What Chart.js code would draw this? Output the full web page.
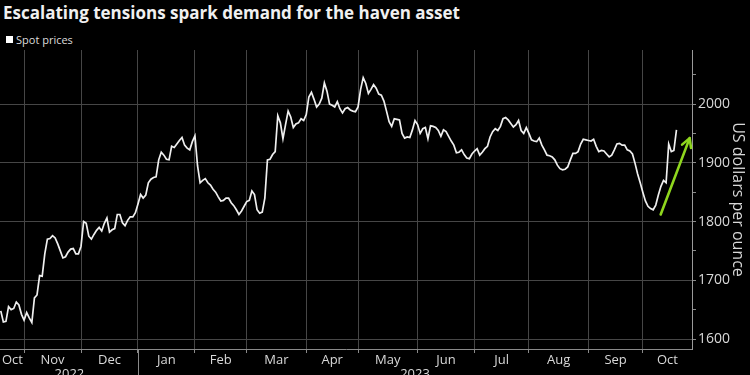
<!DOCTYPE html>
<html><head><meta charset="utf-8">
<script src="https://cdn.jsdelivr.net/npm/chart.js@4.4.0/dist/chart.umd.min.js"></script>
<style>
html,body{margin:0;padding:0;background:#000;}
#wrap{position:relative;width:750px;height:375px;background:#000;overflow:hidden;}
#title{position:absolute;left:3px;top:1px;font:700 17px "Open Sans";color:#f0f0f0;white-space:nowrap;}
#legend{position:absolute;left:6px;top:32px;font:400 11px "Open Sans";color:#dcdcdc;display:flex;align-items:center;white-space:nowrap;}
#legend .box{display:inline-block;width:7px;height:7px;background:#fff;margin-right:3px;}
canvas{position:absolute;left:0;top:0;}
</style></head>
<body><div id="wrap">
<div id="title">Escalating tensions spark demand for the haven asset</div>
<div id="legend"><span class="box"></span>Spot prices</div>
<canvas id="c" width="750" height="375"></canvas>
</div>
<script>
// Month categories (trading days visible in each month)
const monthNames = ['Oct','Nov','Dec','Jan','Feb','Mar','Apr','May','Jun','Jul','Aug','Sep','Oct'];
const monthDays  = [9,22,22,22,20,23,20,23,22,21,23,21,14];
const yearLabels = ['2022','2023'];
const yearMonthCounts = [3,10];
// Gold spot price, USD per ounce, daily
const spotPrices = [
1648,1629,1630,1655,1650,1652,1663,1658,1642,1632,
1645,1636,1628,1670,1675,1708,1707,1745,1770,1771,
1776,1772,1762,1750,1738,1740,1748,1753,1754,1745,
1745,1758,1800,1797,1775,1770,1778,1785,1790,1784,
1797,1806,1782,1786,1788,1812,1812,1798,1793,1802,
1808,1808,1815,1830,1846,1840,1845,1866,1872,1875,
1876,1905,1918,1913,1906,1905,1928,1926,1932,1938,
1943,1930,1925,1922,1936,1946,1895,1866,1870,1873,
1866,1862,1855,1850,1842,1835,1836,1840,1840,1832,
1827,1820,1812,1818,1826,1834,1836,1852,1846,1820,
1814,1816,1840,1905,1906,1914,1919,1980,1968,1941,
1965,1988,1978,1960,1966,1968,1975,1972,1982,2012,
2020,2008,1995,2000,2010,2036,2022,2000,1998,1995,
2004,1992,1985,1992,1994,1990,1988,1987,1995,2025,
2045,2035,2018,2025,2033,2027,2017,2015,2005,1988,
1970,1962,1975,1974,1973,1950,1942,1944,1943,1956,
1972,1965,1950,1958,1960,1941,1963,1962,1960,1955,
1945,1956,1953,1945,1937,1930,1917,1918,1922,1914,
1908,1907,1915,1920,1924,1913,1918,1924,1928,1944,
1953,1958,1955,1962,1975,1977,1973,1967,1961,1965,
1972,1955,1950,1960,1950,1939,1937,1936,1942,1930,
1922,1913,1912,1910,1905,1896,1890,1888,1889,1893,
1905,1916,1916,1919,1932,1940,1939,1938,1937,1940,
1928,1919,1921,1920,1915,1910,1913,1922,1932,1933,
1930,1930,1922,1920,1915,1899,1881,1866,1850,1835,
1826,1822,1820,1828,1845,1860,1870,1866,1932,1919,
1921,1956
];
const yTickValues = [1600,1650,1700,1750,1800,1850,1900,1950,2000,2050];
// Annotation arrow (data coordinates: trading-day index, price)
const arrowFrom = [254.9, 1812];
const arrowTo   = [266.1, 1942];

const X_MIN = -0.3, X_MAX = 267;
const Y_MIN = 1583, Y_MAX = 2092;
const GRID = '#464646';
const TEXT = '#d8d8d8';
const FONT = 'Open Sans';

const monthStarts = [];
let acc = 0;
monthDays.forEach(d => { monthStarts.push(acc); acc += d; });

const xTicks = [];
monthStarts.forEach((s, k) => {
  if (k > 0) xTicks.push({value: s, kind: 'grid', label: ''});
  const a = Math.max(s, X_MIN);
  const e = (k === monthDays.length - 1) ? X_MAX : s + monthDays[k];
  xTicks.push({value: (a + e) / 2, kind: 'label', label: monthNames[k]});
});
let mIdx = 0;
yearLabels.forEach((y, k) => {
  const a = Math.max(monthStarts[mIdx], X_MIN);
  const nextIdx = mIdx + yearMonthCounts[k];
  const e = nextIdx < monthStarts.length ? monthStarts[nextIdx] : X_MAX;
  xTicks.push({value: (a + e) / 2, kind: 'year', label: ['', y]});
  mIdx = nextIdx;
});
xTicks.sort((p, q) => p.value - q.value);
const yearSplit = monthStarts[yearMonthCounts[0]];

const points = spotPrices.map((v, i) => ({x: i, y: v}));

const extras = {
  id: 'extras',
  afterDatasetsDraw(chart) {
    const {ctx, scales: {x, y}} = chart;
    const x1 = x.getPixelForValue(arrowFrom[0]), y1 = y.getPixelForValue(arrowFrom[1]);
    const x2 = x.getPixelForValue(arrowTo[0]), y2 = y.getPixelForValue(arrowTo[1]);
    ctx.save();
    ctx.strokeStyle = '#8fd61e';
    ctx.lineWidth = 2.6;
    ctx.lineCap = 'round';
    ctx.lineJoin = 'round';
    ctx.beginPath(); ctx.moveTo(x1, y1); ctx.lineTo(x2, y2); ctx.stroke();
    const ang = Math.atan2(y2 - y1, x2 - x1), L = 10, spread = 0.5;
    ctx.beginPath();
    ctx.moveTo(x2 - L * Math.cos(ang - spread), y2 - L * Math.sin(ang - spread));
    ctx.lineTo(x2, y2);
    ctx.lineTo(x2 - L * Math.cos(ang + spread), y2 - L * Math.sin(ang + spread));
    ctx.stroke();
    ctx.restore();
  },
  afterDraw(chart) {
    const {ctx, scales: {x}, chartArea} = chart;
    const px = Math.round(x.getPixelForValue(yearSplit)) + 0.5;
    ctx.save();
    ctx.strokeStyle = '#8a8a8a';
    ctx.lineWidth = 1;
    ctx.beginPath(); ctx.moveTo(px, chartArea.bottom); ctx.lineTo(px, chart.height); ctx.stroke();
    ctx.restore();
  }
};

new Chart(document.getElementById('c'), {
  type: 'line',
  data: { datasets: [{
    label: 'Spot prices', data: points,
    borderColor: '#efefef', borderWidth: 1.7, pointRadius: 0, tension: 0, fill: false
  }]},
  options: {
    responsive: false, animation: false, devicePixelRatio: 1,
    layout: { padding: { top: 50, left: 0, right: 0, bottom: 0 } },
    plugins: { legend: { display: false }, title: { display: false }, tooltip: { enabled: false } },
    scales: {
      x: {
        type: 'linear', min: X_MIN, max: X_MAX,
        afterBuildTicks: s => { s.ticks = xTicks.map(t => ({value: t.value})); },
        afterFit: s => { s.height = 26; },
        ticks: {
          autoSkip: false, maxRotation: 0, minRotation: 0, padding: 0,
          color: TEXT, font: {family: FONT, size: 13, lineHeight: 1.1},
          callback: (v, i) => xTicks[i] ? xTicks[i].label : ''
        },
        grid: {
          color: c => (c.tick && xTicks[c.index] && xTicks[c.index].kind === 'grid') ? GRID : 'rgba(0,0,0,0)',
          tickColor: c => (c.tick && xTicks[c.index] && xTicks[c.index].kind === 'grid') ? '#8a8a8a' : 'rgba(0,0,0,0)',
          tickLength: 4, lineWidth: 1
        },
        border: { display: true, color: '#8a8a8a' }
      },
      y: {
        position: 'right', min: Y_MIN, max: Y_MAX,
        afterBuildTicks: s => { s.ticks = yTickValues.map(v => ({value: v})); },
        afterFit: s => { s.width = 58; },
        ticks: {
          autoSkip: false, padding: 2, color: TEXT, font: {family: FONT, size: 14},
          callback: v => (v % 100 === 0 ? String(v) : '')
        },
        grid: {
          color: c => (c.tick && c.tick.value % 100 === 0) ? GRID : 'rgba(0,0,0,0)',
          tickColor: '#8a8a8a', tickLength: 4, lineWidth: 1
        },
        border: { display: true, color: '#9a9a9a' },
        title: { display: true, text: 'US dollars per ounce', color: TEXT,
                 font: {family: FONT, size: 16}, padding: {top: 3, bottom: 0} }
      }
    }
  },
  plugins: [extras]
});
</script>
</body></html>
